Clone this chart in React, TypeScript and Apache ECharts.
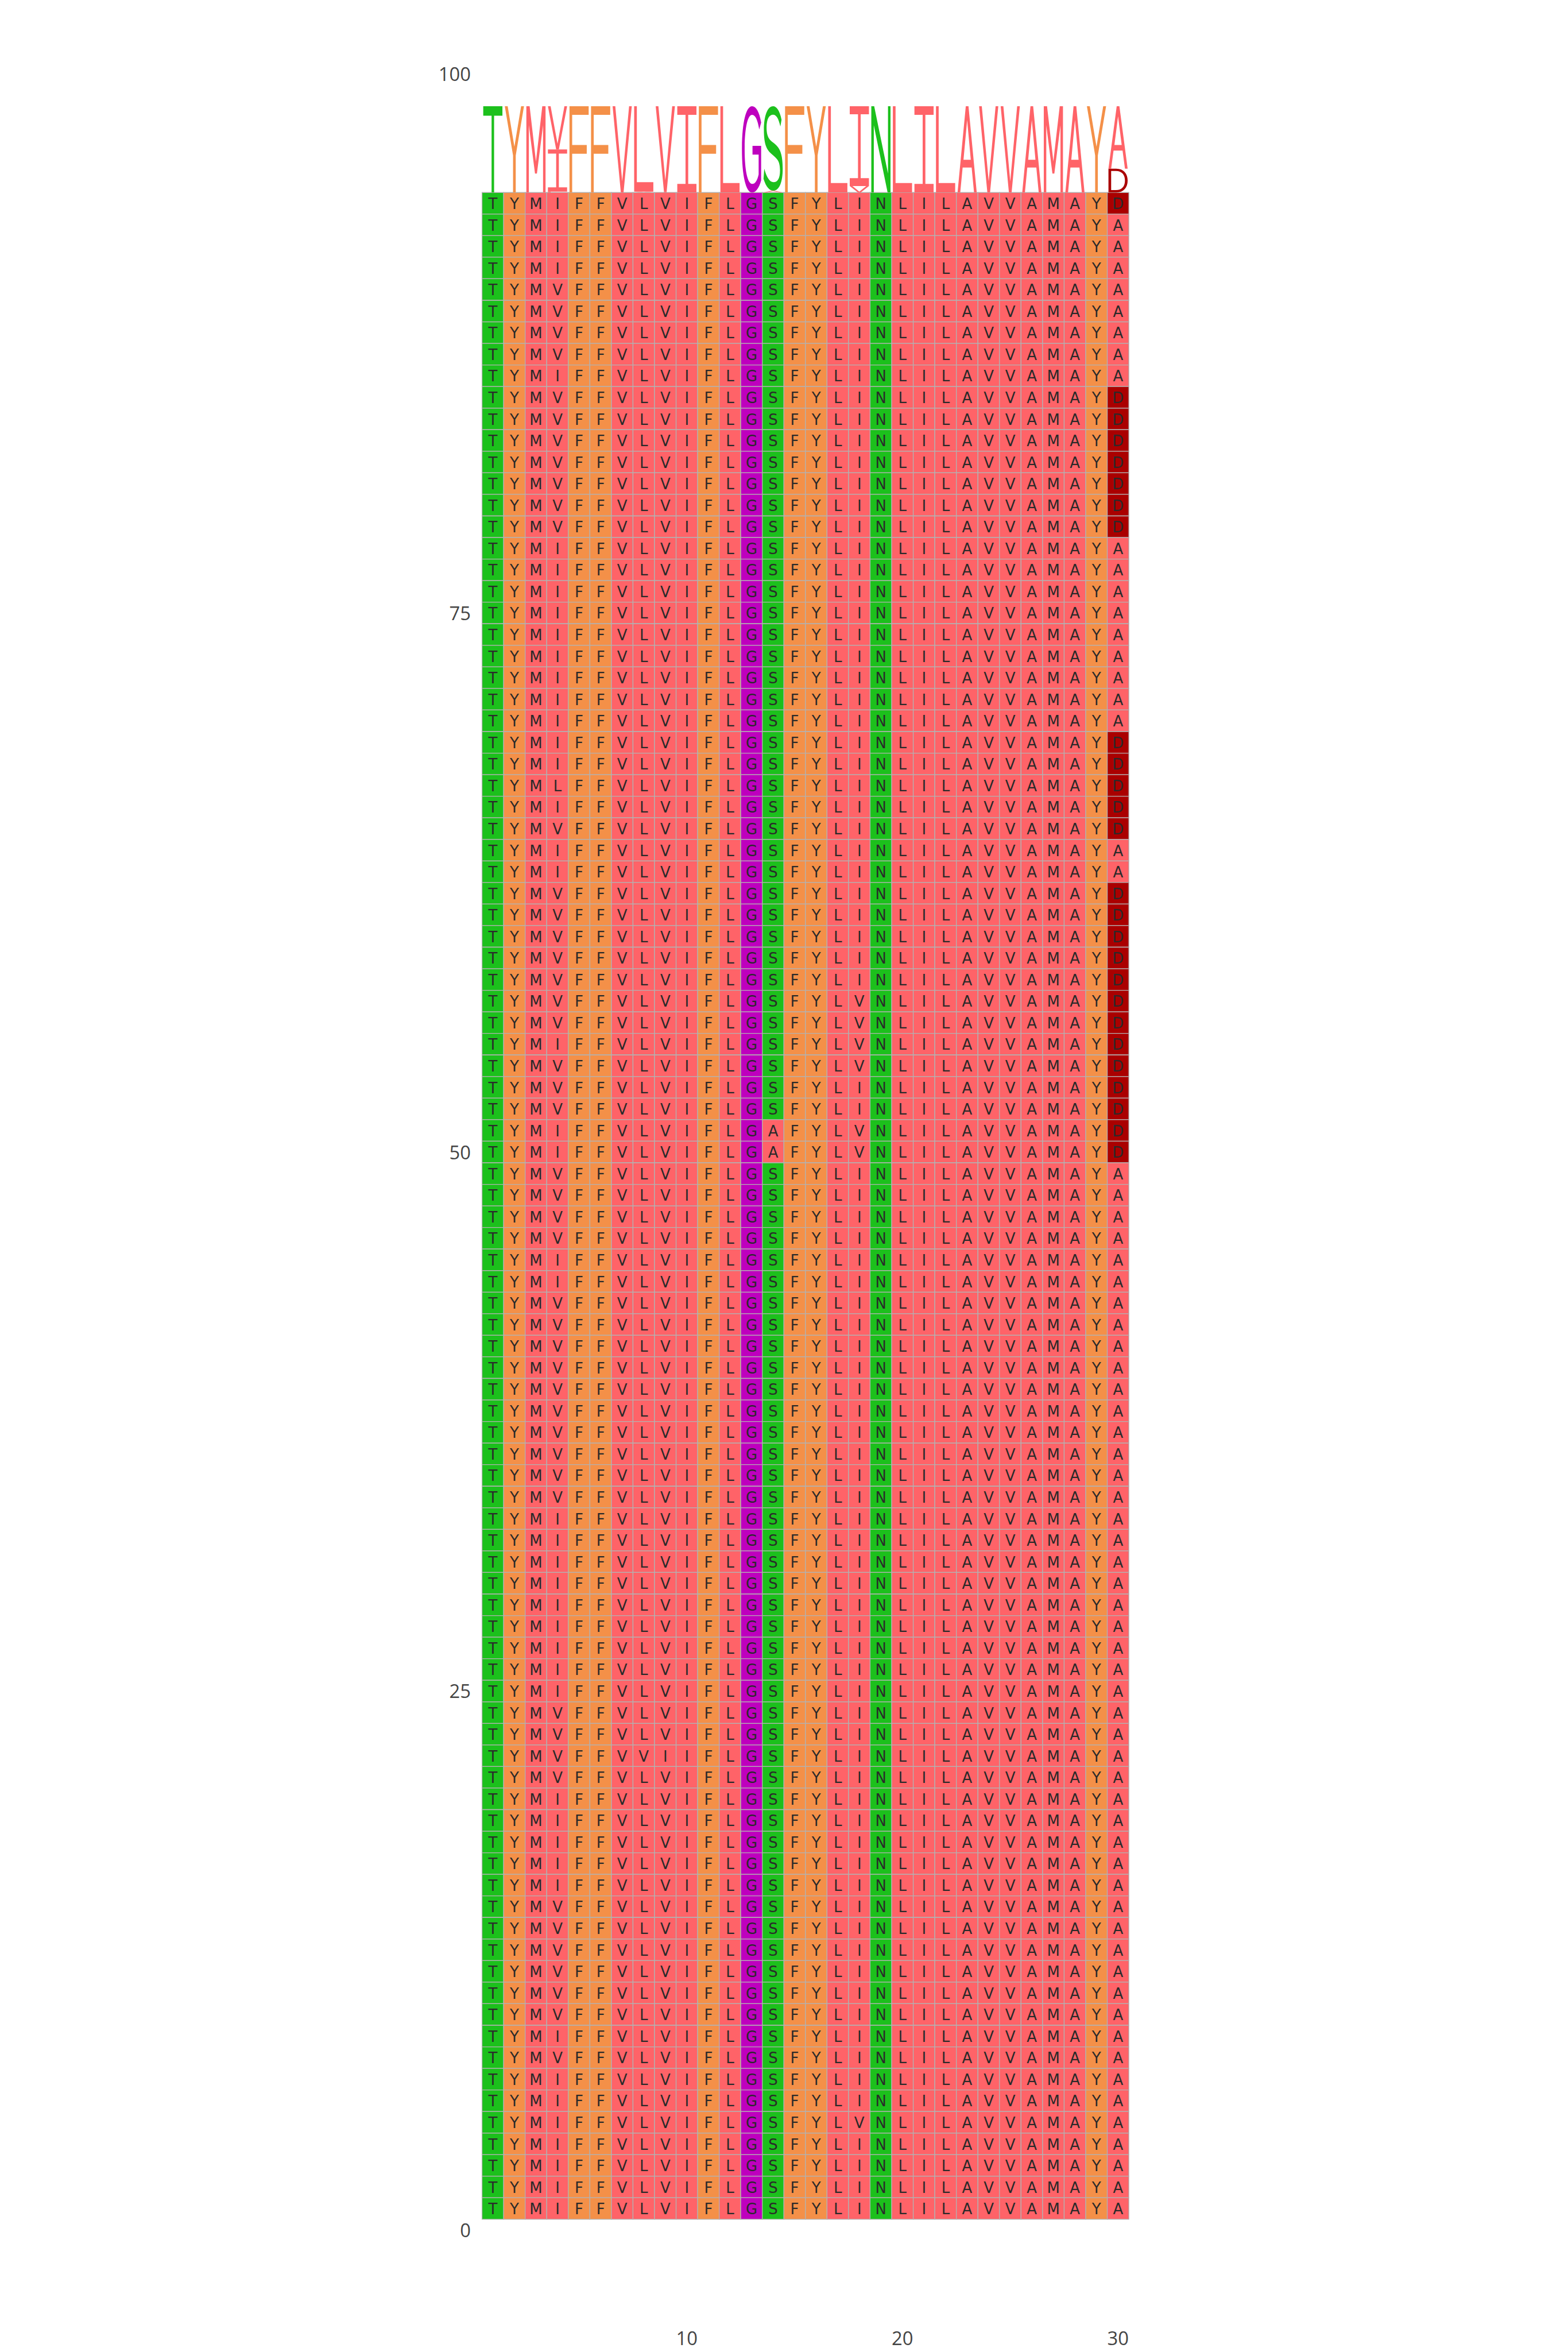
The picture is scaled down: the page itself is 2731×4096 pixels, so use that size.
import React, { useEffect, useRef } from "react";
import * as echarts from "echarts";

// ---- data ----
const positions = [1, 2, 3, 4, 5, 6, 7, 8, 9, 10, 11, 12, 13, 14, 15, 16, 17, 18, 19, 20, 21, 22, 23, 24, 25, 26, 27, 28, 29, 30];

// aligned sequences, top row first
const sequences = [
  "TYMIFFVLVIFLGSFYLINLILAVVAMAYD",
  "TYMIFFVLVIFLGSFYLINLILAVVAMAYA",
  "TYMIFFVLVIFLGSFYLINLILAVVAMAYA",
  "TYMIFFVLVIFLGSFYLINLILAVVAMAYA",
  "TYMVFFVLVIFLGSFYLINLILAVVAMAYA",
  "TYMVFFVLVIFLGSFYLINLILAVVAMAYA",
  "TYMVFFVLVIFLGSFYLINLILAVVAMAYA",
  "TYMVFFVLVIFLGSFYLINLILAVVAMAYA",
  "TYMIFFVLVIFLGSFYLINLILAVVAMAYA",
  "TYMVFFVLVIFLGSFYLINLILAVVAMAYD",
  "TYMVFFVLVIFLGSFYLINLILAVVAMAYD",
  "TYMVFFVLVIFLGSFYLINLILAVVAMAYD",
  "TYMVFFVLVIFLGSFYLINLILAVVAMAYD",
  "TYMVFFVLVIFLGSFYLINLILAVVAMAYD",
  "TYMVFFVLVIFLGSFYLINLILAVVAMAYD",
  "TYMVFFVLVIFLGSFYLINLILAVVAMAYD",
  "TYMIFFVLVIFLGSFYLINLILAVVAMAYA",
  "TYMIFFVLVIFLGSFYLINLILAVVAMAYA",
  "TYMIFFVLVIFLGSFYLINLILAVVAMAYA",
  "TYMIFFVLVIFLGSFYLINLILAVVAMAYA",
  "TYMIFFVLVIFLGSFYLINLILAVVAMAYA",
  "TYMIFFVLVIFLGSFYLINLILAVVAMAYA",
  "TYMIFFVLVIFLGSFYLINLILAVVAMAYA",
  "TYMIFFVLVIFLGSFYLINLILAVVAMAYA",
  "TYMIFFVLVIFLGSFYLINLILAVVAMAYA",
  "TYMIFFVLVIFLGSFYLINLILAVVAMAYD",
  "TYMIFFVLVIFLGSFYLINLILAVVAMAYD",
  "TYMLFFVLVIFLGSFYLINLILAVVAMAYD",
  "TYMIFFVLVIFLGSFYLINLILAVVAMAYD",
  "TYMVFFVLVIFLGSFYLINLILAVVAMAYD",
  "TYMIFFVLVIFLGSFYLINLILAVVAMAYA",
  "TYMIFFVLVIFLGSFYLINLILAVVAMAYA",
  "TYMVFFVLVIFLGSFYLINLILAVVAMAYD",
  "TYMVFFVLVIFLGSFYLINLILAVVAMAYD",
  "TYMVFFVLVIFLGSFYLINLILAVVAMAYD",
  "TYMVFFVLVIFLGSFYLINLILAVVAMAYD",
  "TYMVFFVLVIFLGSFYLINLILAVVAMAYD",
  "TYMVFFVLVIFLGSFYLVNLILAVVAMAYD",
  "TYMVFFVLVIFLGSFYLVNLILAVVAMAYD",
  "TYMIFFVLVIFLGSFYLVNLILAVVAMAYD",
  "TYMVFFVLVIFLGSFYLVNLILAVVAMAYD",
  "TYMVFFVLVIFLGSFYLINLILAVVAMAYD",
  "TYMVFFVLVIFLGSFYLINLILAVVAMAYD",
  "TYMIFFVLVIFLGAFYLVNLILAVVAMAYD",
  "TYMIFFVLVIFLGAFYLVNLILAVVAMAYD",
  "TYMVFFVLVIFLGSFYLINLILAVVAMAYA",
  "TYMVFFVLVIFLGSFYLINLILAVVAMAYA",
  "TYMVFFVLVIFLGSFYLINLILAVVAMAYA",
  "TYMVFFVLVIFLGSFYLINLILAVVAMAYA",
  "TYMIFFVLVIFLGSFYLINLILAVVAMAYA",
  "TYMIFFVLVIFLGSFYLINLILAVVAMAYA",
  "TYMVFFVLVIFLGSFYLINLILAVVAMAYA",
  "TYMVFFVLVIFLGSFYLINLILAVVAMAYA",
  "TYMVFFVLVIFLGSFYLINLILAVVAMAYA",
  "TYMVFFVLVIFLGSFYLINLILAVVAMAYA",
  "TYMVFFVLVIFLGSFYLINLILAVVAMAYA",
  "TYMVFFVLVIFLGSFYLINLILAVVAMAYA",
  "TYMVFFVLVIFLGSFYLINLILAVVAMAYA",
  "TYMVFFVLVIFLGSFYLINLILAVVAMAYA",
  "TYMVFFVLVIFLGSFYLINLILAVVAMAYA",
  "TYMVFFVLVIFLGSFYLINLILAVVAMAYA",
  "TYMIFFVLVIFLGSFYLINLILAVVAMAYA",
  "TYMIFFVLVIFLGSFYLINLILAVVAMAYA",
  "TYMIFFVLVIFLGSFYLINLILAVVAMAYA",
  "TYMIFFVLVIFLGSFYLINLILAVVAMAYA",
  "TYMIFFVLVIFLGSFYLINLILAVVAMAYA",
  "TYMIFFVLVIFLGSFYLINLILAVVAMAYA",
  "TYMIFFVLVIFLGSFYLINLILAVVAMAYA",
  "TYMIFFVLVIFLGSFYLINLILAVVAMAYA",
  "TYMIFFVLVIFLGSFYLINLILAVVAMAYA",
  "TYMVFFVLVIFLGSFYLINLILAVVAMAYA",
  "TYMVFFVLVIFLGSFYLINLILAVVAMAYA",
  "TYMVFFVVIIFLGSFYLINLILAVVAMAYA",
  "TYMVFFVLVIFLGSFYLINLILAVVAMAYA",
  "TYMIFFVLVIFLGSFYLINLILAVVAMAYA",
  "TYMIFFVLVIFLGSFYLINLILAVVAMAYA",
  "TYMIFFVLVIFLGSFYLINLILAVVAMAYA",
  "TYMIFFVLVIFLGSFYLINLILAVVAMAYA",
  "TYMIFFVLVIFLGSFYLINLILAVVAMAYA",
  "TYMVFFVLVIFLGSFYLINLILAVVAMAYA",
  "TYMVFFVLVIFLGSFYLINLILAVVAMAYA",
  "TYMVFFVLVIFLGSFYLINLILAVVAMAYA",
  "TYMVFFVLVIFLGSFYLINLILAVVAMAYA",
  "TYMVFFVLVIFLGSFYLINLILAVVAMAYA",
  "TYMVFFVLVIFLGSFYLINLILAVVAMAYA",
  "TYMIFFVLVIFLGSFYLINLILAVVAMAYA",
  "TYMVFFVLVIFLGSFYLINLILAVVAMAYA",
  "TYMIFFVLVIFLGSFYLINLILAVVAMAYA",
  "TYMIFFVLVIFLGSFYLINLILAVVAMAYA",
  "TYMIFFVLVIFLGSFYLVNLILAVVAMAYA",
  "TYMIFFVLVIFLGSFYLINLILAVVAMAYA",
  "TYMIFFVLVIFLGSFYLINLILAVVAMAYA",
  "TYMIFFVLVIFLGSFYLINLILAVVAMAYA",
  "TYMIFFVLVIFLGSFYLINLILAVVAMAYA",
];

const yTickValues = [0, 25, 50, 75, 100];
const xTickValues = [10, 20, 30];
const logoTotalHeight = 4;

// ---- styles ----
const GREEN = "#1cc01c";
const ORANGE = "#f49048";
const SALMON = "#ff6368";
const MAGENTA = "#be00be";
const DARKRED = "#aa0000";
const residueColors: Record<string, string> = {
  T: GREEN, S: GREEN, N: GREEN,
  Y: ORANGE, F: ORANGE,
  M: SALMON, I: SALMON, V: SALMON, L: SALMON, A: SALMON,
  G: MAGENTA, D: DARKRED,
};

// glyph outlines in a 100x100 box (stretched to fill each logo slot)
const glyphPaths: Record<string, string> = {
  T: "M0 0H100V11H56.5V100H43.5V11H0Z",
  I: "M0 0H100V10H57V90H100V100H0V90H43V10H0Z",
  L: "M0 0H14V89H100V100H0Z",
  F: "M0 0H100V10H14V45H90V55H14V100H0Z",
  V: "M0 0H14L50 87L86 0H100L57 100H43Z",
  Y: "M0 0H15L50 47L85 0H100L57 57V100H43V57Z",
  A: "M43 0H57L100 100H86L73.5 71H26.5L14 100H0Z M50 16L31 62H69Z",
  M: "M0 0H17L50 64L83 0H100V100H87V22L55 78H45L13 22V100H0Z",
  N: "M0 0H15L87 78V0H100V100H85L13 22V100H0Z",
  D: "M0 0H40C80 0 100 22 100 50C100 78 80 100 40 100H0Z M14 10V90H39C70 90 86 74 86 50C86 26 70 10 39 10Z",
  G: "M100 19C90 6 73 0 53 0C20 0 0 20 0 50C0 80 20 100 53 100C72 100 89 95 100 86V46H55V56H87V79C79 87 67 90 54 90C29 90 14 74 14 50C14 26 29 10 53 10C70 10 82 16 90 27Z",
  S: "M94 16C84 5 68 0 50 0C20 0 2 12 2 28C2 46 18 52 44 57C68 62 86 64 86 76C86 86 72 90 52 90C32 90 16 84 4 74L0 86C14 96 32 100 52 100C82 100 100 90 100 74C100 56 84 49 56 44C32 40 16 37 16 25C16 15 30 10 50 10C66 10 78 14 88 24Z",
};

export default function App() {
  const ref = useRef<HTMLDivElement>(null);

  useEffect(() => {
    if (!ref.current) return;
    const chart = echarts.init(ref.current, undefined, { renderer: "svg" });
    const nRows = sequences.length;

    // cells
    const cells: { x: number; y: number; letter: string }[] = [];
    sequences.forEach((seq, k) => {
      positions.forEach((pos, j) => {
        cells.push({ x: pos, y: nRows - k, letter: seq[j] });
      });
    });

    // logo letters stacked by frequency
    const logo: { x: number; y0: number; y1: number; letter: string }[] = [];
    positions.forEach((pos, j) => {
      const counts: Record<string, number> = {};
      sequences.forEach((s) => {
        counts[s[j]] = (counts[s[j]] || 0) + 1;
      });
      const entries = Object.entries(counts).sort((a, b) => a[1] - b[1]);
      let base = nRows + 0.5;
      entries.forEach(([letter, c]) => {
        const h = (c / nRows) * logoTotalHeight;
        logo.push({ x: pos, y0: base, y1: base + h, letter });
        base += h;
      });
    });

    const labelFont = {
      fontFamily: "Open Sans",
      fontSize: 32.8,
      color: "#444",
    };

    chart.setOption({
      animation: false,
      backgroundColor: "#ffffff",
      grid: { left: 839.6, top: 128.7, right: 764.9, bottom: 212.3, containLabel: false },
      xAxis: {
        type: "value",
        min: 0.5,
        max: 30.5,
        offset: 163,
        axisLine: { show: false },
        axisTick: { show: false },
        splitLine: { show: false },
        axisLabel: { ...labelFont, margin: 8, customValues: xTickValues },
      },
      yAxis: {
        type: "value",
        min: 0,
        max: 100,
        interval: 25,
        axisLine: { show: false },
        axisTick: { show: false },
        splitLine: { show: false },
        axisLabel: { ...labelFont, margin: 19.6, customValues: yTickValues },
      },
      series: [
        {
          type: "custom",
          coordinateSystem: "cartesian2d",
          encode: { x: 0, y: 1 },
          data: cells.map((c) => [c.x, c.y]),
          renderItem: (params: any, api: any) => {
            const c = cells[params.dataIndex];
            const p0 = api.coord([c.x - 0.5, c.y + 0.5]);
            const p1 = api.coord([c.x + 0.5, c.y - 0.5]);
            return {
              type: "group",
              children: [
                {
                  type: "rect",
                  shape: { x: p0[0], y: p0[1], width: p1[0] - p0[0], height: p1[1] - p0[1] },
                  style: { fill: residueColors[c.letter], stroke: "#b2b2b2", lineWidth: 1.3 },
                },
                {
                  type: "text",
                  x: (p0[0] + p1[0]) / 2,
                  y: (p0[1] + p1[1]) / 2 + 1,
                  style: {
                    text: c.letter,
                    fill: "#2a2a2a",
                    fontSize: 26,
                    fontFamily: "DejaVu Sans",
                    align: "center",
                    verticalAlign: "middle",
                  },
                },
              ],
            };
          },
        },
        {
          type: "custom",
          coordinateSystem: "cartesian2d",
          encode: { x: 0, y: 1 },
          data: logo.map((l) => [l.x, l.y0, l.y1]),
          renderItem: (params: any, api: any) => {
            const l = logo[params.dataIndex];
            const p0 = api.coord([l.x - 0.5, l.y1]);
            const p1 = api.coord([l.x + 0.5, l.y0]);
            const pad = (p1[0] - p0[0]) * 0.055;
            return {
              type: "path",
              shape: {
                pathData: glyphPaths[l.letter],
                x: p0[0] + pad,
                y: p0[1],
                width: p1[0] - p0[0] - 2 * pad,
                height: Math.max(p1[1] - p0[1], 0.5),
                layout: "cover",
              },
              style: { fill: residueColors[l.letter] },
            };
          },
        },
      ],
    });

    return () => chart.dispose();
  }, []);

  return (
    <div
      ref={ref}
      style={{ position: "absolute", left: 0, top: 0, width: 2731, height: 4096, background: "#fff" }}
    />
  );
}
